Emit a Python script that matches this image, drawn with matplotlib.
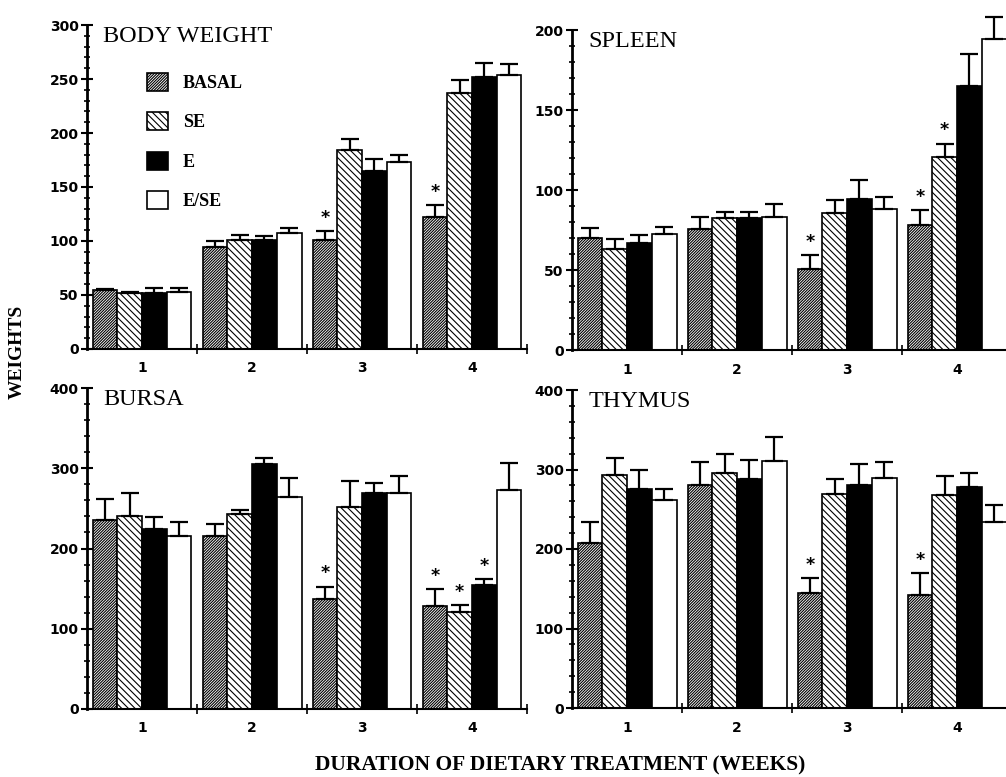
import numpy as np
import matplotlib
matplotlib.use('Agg')
import matplotlib.pyplot as plt
from matplotlib.patches import Patch
from matplotlib.ticker import MultipleLocator, FixedLocator, NullFormatter

plt.rcParams['hatch.linewidth'] = 0.8

WEEKS = ['1', '2', '3', '4']
GROUPS = ['BASAL', 'SE', 'E', 'E/SE']

# means per group (rows: BASAL, SE, E, E/SE; cols: week 1-4) and SEM
BW_MEAN = [[54.5, 94.5, 101, 122], [52.3, 101, 184, 236.6],
           [52, 101, 164.6, 252], [53, 107.7, 173, 254]]
BW_SEM = [[1, 5.5, 8, 11], [0.5, 4.5, 10.5, 12.5],
          [4.5, 3.6, 11, 12.6], [3.6, 4.3, 6.7, 10]]
BW_STARS = [(0, 2), (0, 3)]

SP_MEAN = [[70.2, 75.8, 50.4, 77.9], [63, 82.4, 85.5, 120.5],
           [67, 82.4, 94.6, 165.3], [72.3, 82.9, 88, 194.2]]
SP_SEM = [[6.2, 7.2, 8.9, 9.3], [6.6, 4, 8.1, 8.5],
          [4.7, 4, 11.8, 19.7], [4.7, 8.4, 7.5, 14]]
SP_STARS = [(0, 2), (0, 3), (1, 3)]

BU_MEAN = [[235, 215, 137.5, 128], [240.4, 242.5, 251.7, 121],
           [224, 305.4, 268.8, 154.6], [215.8, 264, 269.6, 273.5]]
BU_SEM = [[27, 16, 15, 21], [28.4, 5.5, 32, 8],
          [15.6, 7, 12.2, 7.4], [17.5, 24, 20.4, 33.5]]
BU_STARS = [(0, 2), (0, 3), (1, 3), (2, 3)]

TH_MEAN = [[207.5, 280, 145, 141.7], [292.5, 295, 268.8, 268],
           [276, 288, 280, 277.5], [262, 311, 289, 234]]
TH_SEM = [[26.5, 29.6, 18, 28], [22.5, 24, 18.7, 23.7],
          [24, 23.7, 27.5, 18.5], [13, 29.4, 20, 21]]
TH_STARS = [(0, 2), (0, 3)]

STYLES = [dict(facecolor='white', hatch='/' * 12),
          dict(facecolor='white', hatch='\\' * 5),
          dict(facecolor='black', hatch=None),
          dict(facecolor='white', hatch=None)]

W, H = 1006, 777
fig = plt.figure(figsize=(W / 100, H / 100), dpi=100)


def px_axes(x0, x1, y_top, y_bot):
    return fig.add_axes([x0 / W, 1 - y_bot / H, (x1 - x0) / W, (y_bot - y_top) / H])


def panel(ax, title, mean, sem, stars, ymax, major, minor):
    x = np.arange(1, 5)
    bw = 0.225
    for g in range(4):
        xs = x - 0.45 + bw * (g + 0.5)
        ax.bar(xs, mean[g], width=bw, edgecolor='black', linewidth=1.2, zorder=2, **STYLES[g])
        eb = ax.errorbar(xs, mean[g], yerr=[np.zeros(4), sem[g]], fmt='none', ecolor='black',
                         elinewidth=1.6, capsize=6.5, capthick=1.6, zorder=3)
        for art in eb.lines[1] + eb.lines[2]:
            art.set_clip_on(False)
    for g, w in stars:
        xs = w + 1 - 0.45 + bw * (g + 0.5)
        ax.annotate('*', (xs, mean[g][w] + sem[g][w]), xytext=(0, 3), textcoords='offset points',
                    ha='center', va='bottom', fontsize=12.5, fontweight='bold')
    ax.set_xlim(0.5, 4.5)
    ax.set_ylim(0, ymax)
    for s in ['top', 'right']:
        ax.spines[s].set_visible(False)
    ax.spines['left'].set_linewidth(2)
    ax.spines['bottom'].set_linewidth(1.5)
    ax.yaxis.set_major_locator(MultipleLocator(major))
    ax.yaxis.set_minor_locator(MultipleLocator(minor))
    ax.tick_params(axis='y', which='major', direction='inout', length=8, width=1.5,
                   labelsize=10, pad=2)
    ax.tick_params(axis='y', which='minor', direction='inout', length=4, width=1.2)
    for lab in ax.get_yticklabels():
        lab.set_fontweight('bold')
    ax.set_xticks(x)
    ax.set_xticklabels(WEEKS, fontweight='bold', fontsize=10)
    ax.xaxis.set_minor_locator(FixedLocator([1.5, 2.5, 3.5, 4.5]))
    ax.xaxis.set_minor_formatter(NullFormatter())
    ax.tick_params(axis='x', which='major', length=0, pad=9)
    ax.tick_params(axis='x', which='minor', direction='inout', length=7, width=1.2)
    ax.text(0.037, 0.965, title, transform=ax.transAxes, ha='left', va='center',
            fontsize=17.5, family='Liberation Serif')


ax1 = px_axes(87, 527, 25, 349)
panel(ax1, 'BODY WEIGHT', BW_MEAN, BW_SEM, BW_STARS, 300, 50, 10)
ax2 = px_axes(572, 1012, 30, 350)
panel(ax2, 'SPLEEN', SP_MEAN, SP_SEM, SP_STARS, 200, 50, 10)
ax3 = px_axes(87, 527, 388, 709)
panel(ax3, 'BURSA', BU_MEAN, BU_SEM, BU_STARS, 400, 100, 20)
ax4 = px_axes(572, 1012, 390, 708)
panel(ax4, 'THYMUS', TH_MEAN, TH_SEM, TH_STARS, 400, 100, 20)

handles = [Patch(edgecolor='black', linewidth=1.2, **STYLES[g]) for g in range(4)]
leg = ax1.legend(handles, GROUPS, loc='upper left', bbox_to_anchor=(147 / W, 1 - 73 / H),
                 bbox_transform=fig.transFigure, frameon=False, borderpad=0, borderaxespad=0,
                 handlelength=1.15, handleheight=1.15, labelspacing=1.12, handletextpad=0.85,
                 prop=dict(family='Liberation Serif', weight='bold', size=13))

fig.text(17 / W, 1 - 352 / H, 'WEIGHTS', rotation=90, ha='center', va='center',
         fontsize=14, fontweight='bold', family='Liberation Serif')
fig.text(560 / W, 1 - 765 / H, 'DURATION OF DIETARY TREATMENT (WEEKS)', ha='center', va='center',
         fontsize=15.5, fontweight='bold', family='Liberation Serif')

fig.savefig('out.png', dpi=100, facecolor='white')
